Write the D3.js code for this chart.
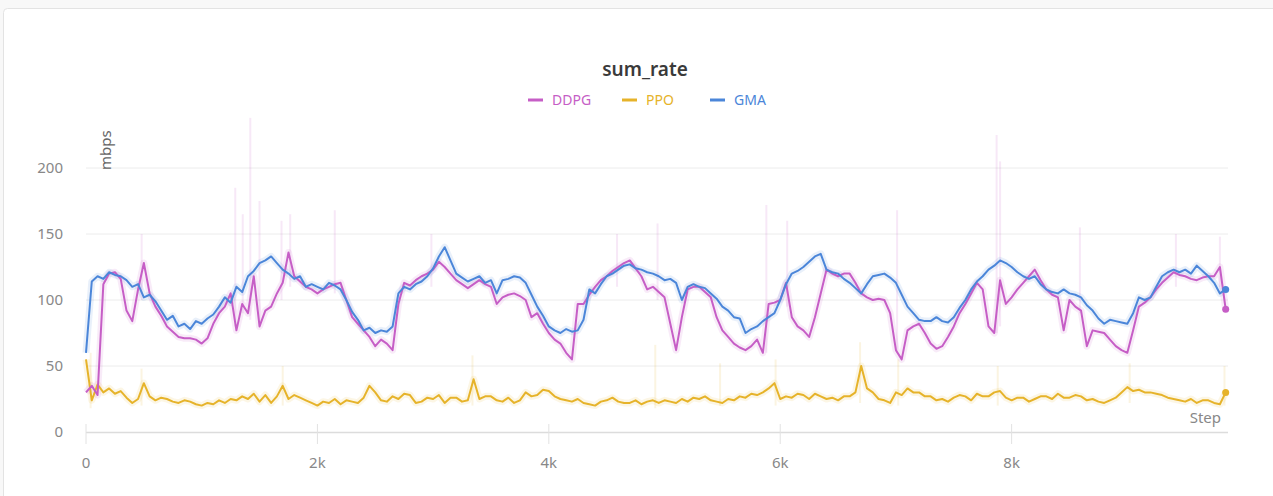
<!DOCTYPE html>
<html>
<head>
<meta charset="utf-8">
<script src="https://cdn.jsdelivr.net/npm/d3@7"></script>
<style>
  html, body { margin: 0; padding: 0; background: #f8f8f8; }
  svg { display: block; }
</style>
</head>
<body>
<svg id="chart" width="1273" height="496"></svg>
<script>
// ---------- data ----------
const title = "sum_rate";
const seriesNames = ["DDPG", "PPO", "GMA"];
const seriesColors = ["#c65ec6", "#e6b32a", "#4b86d9"];
const yTicks = [0, 50, 100, 150, 200];
const xTicks = [0, 2000, 4000, 6000, 8000];
const xTickLabels = ["0", "2k", "4k", "6k", "8k"];
const yLabel = "mbps";
const xLabel = "Step";

// steps 0, 50, 100, ... 9850
const steps = d3.range(0, 9851, 50);

const ddpg = [
  30,35,28,112,120,121,116,92,84,108,
  128,105,95,88,80,76,72,71,71,70,
  67,71,82,90,95,105,77,97,90,118,
  80,92,95,105,113,136,118,114,110,108,
  105,108,110,112,113,100,87,82,77,72,
  65,70,67,62,97,113,111,115,118,120,
  123,129,125,120,115,112,109,112,115,112,
  110,97,102,104,105,103,100,87,90,82,
  75,70,67,60,55,97,97,104,110,115,
  118,122,125,128,130,124,118,108,110,106,
  102,82,62,87,108,110,110,106,102,87,
  77,72,67,64,62,65,70,60,97,98,
  100,113,87,80,77,72,87,105,123,120,
  118,120,120,113,105,102,100,101,100,90,
  62,55,77,80,82,75,67,63,65,72,
  80,90,97,105,113,108,80,75,115,97,
  102,108,113,118,123,115,108,104,102,77,
  100,95,92,65,77,76,75,70,65,62,
  60,77,95,98,102,108,113,117,121,119,
  118,116,115,117,118,118,125,93
];

const ppo = [
  55,24,36,30,33,29,31,26,22,25,
  37,27,24,26,25,23,22,24,23,21,
  20,22,21,24,22,25,24,27,25,29,
  23,28,22,27,35,25,28,26,24,22,
  20,23,22,25,21,24,23,22,26,35,
  30,24,23,27,25,29,28,22,23,26,
  25,28,22,26,26,23,24,40,25,27,
  27,24,23,26,22,24,30,27,28,32,
  31,27,25,24,23,25,22,21,20,23,
  24,26,23,22,22,24,21,23,24,22,
  24,23,22,25,23,26,25,27,24,23,
  22,25,24,27,26,29,28,30,33,37,
  25,27,26,29,28,25,29,27,25,26,
  24,27,27,30,50,33,30,25,24,22,
  30,28,33,30,30,27,27,24,25,23,
  26,28,27,24,29,27,27,30,31,26,
  24,26,26,23,25,27,27,25,29,26,
  26,28,27,24,25,23,22,24,26,30,
  34,31,32,30,30,29,28,26,25,24,
  23,25,22,24,24,22,21,30
];

const gma = [
  60,114,118,116,121,119,118,115,110,112,
  102,104,99,92,85,88,80,82,78,84,
  82,86,89,95,102,98,110,106,118,122,
  128,130,133,128,123,120,116,118,110,112,
  110,108,113,111,108,100,91,85,77,79,
  75,77,76,80,105,110,108,112,114,118,
  124,133,140,130,120,117,114,116,118,113,
  115,105,115,116,118,117,113,104,95,88,
  80,77,75,78,76,77,85,108,105,112,
  118,120,123,126,127,124,123,121,120,118,
  115,116,113,100,110,112,110,109,105,101,
  95,92,87,86,75,78,80,84,87,90,
  100,112,120,122,125,129,133,135,123,121,
  120,116,113,109,105,112,118,119,120,117,
  113,104,95,90,85,84,84,87,84,83,
  87,94,100,108,114,118,123,126,130,128,
  125,121,118,116,118,112,108,106,105,108,
  105,104,102,96,92,86,82,85,84,83,
  82,90,102,100,102,110,118,121,123,121,
  123,120,126,122,118,113,105,108
];

// faint raw spikes (step, low, high)
const ddpgSpikeSteps = [481,1290,1355,1420,1500,1690,1765,2150,2985,4590,4940,5880,6060,7010,7870,7900,8590,9420,9800];
const ddpgSpikeLow   = [100, 80, 90, 85, 80,100,110,105,110,110,100, 60, 95, 60, 75, 80, 90,110,110];
const ddpgSpikeHigh  = [150,185,165,238,175,160,165,168,150,150,158,172,160,168,225,205,155,150,148];
const ppoSpikeSteps  = [40,480,1700,3340,4920,5480,5960,6690,7020,7880,9020,9840];
const ppoSpikeLow    = [18, 20, 20, 20, 18, 20, 20, 22, 20, 20, 22, 20];
const ppoSpikeHigh   = [60, 48, 50, 58, 66, 52, 55, 68, 55, 50, 52, 50];

// ---------- drawing ----------
const svg = d3.select("#chart");
const W = 1273, H = 496;

svg.append("rect").attr("x", 3.5).attr("y", 8.5).attr("width", W + 10).attr("height", H + 10)
  .attr("rx", 4).attr("fill", "#ffffff").attr("stroke", "#e3e3e3");

const x = d3.scaleLinear().domain([0, 9870]).range([86, 1228]);
const y = d3.scaleLinear().domain([0, 200]).range([432, 168]);

const font = "'Noto Sans', 'Open Sans', sans-serif";

// grid
svg.append("g").selectAll("line").data(yTicks.filter(d => d > 0)).join("line")
  .attr("x1", x(0)).attr("x2", x(9870))
  .attr("y1", d => y(d)).attr("y2", d => y(d))
  .attr("stroke", "#ececec").attr("stroke-width", 1);

// y tick labels
svg.append("g").selectAll("text").data(yTicks).join("text")
  .attr("x", 63).attr("y", d => y(d)).attr("dy", "0.35em")
  .attr("text-anchor", "end")
  .attr("font-family", font).attr("font-size", 15).attr("fill", "#888")
  .text(d => d);

// x axis line + ticks
svg.append("line").attr("x1", x(0)).attr("x2", x(9870)).attr("y1", 432.5).attr("y2", 432.5)
  .attr("stroke", "#dcdcdc").attr("stroke-width", 1.5);
svg.append("g").selectAll("line").data(xTicks).join("line")
  .attr("x1", d => x(d)).attr("x2", d => x(d)).attr("y1", 424).attr("y2", 444)
  .attr("stroke", "#e2e2e2").attr("stroke-width", 1);
svg.append("g").selectAll("text").data(xTicks).join("text")
  .attr("x", d => x(d)).attr("y", 463).attr("dy", "0.35em")
  .attr("text-anchor", "middle")
  .attr("font-family", font).attr("font-size", 15).attr("fill", "#888")
  .text((d, i) => xTickLabels[i]);

// axis labels
svg.append("text").attr("transform", "translate(111,170) rotate(-90)")
  .attr("text-anchor", "start")
  .attr("font-family", font).attr("font-size", 15).attr("fill", "#666")
  .text(yLabel);
svg.append("text").attr("x", 1221).attr("y", 423)
  .attr("text-anchor", "end")
  .attr("font-family", font).attr("font-size", 15).attr("fill", "#888")
  .text(xLabel);

// title
svg.append("text").attr("x", 645).attr("y", 76).attr("text-anchor", "middle")
  .attr("font-family", font).attr("font-size", 19).attr("font-weight", 600).attr("fill", "#3a3a3a")
  .text(title);

// legend
const legendX = [528, 622, 710];
const lg = svg.append("g").selectAll("g").data(seriesNames).join("g");
lg.append("line").attr("x1", (d, i) => legendX[i]).attr("x2", (d, i) => legendX[i] + 15)
  .attr("y1", 100).attr("y2", 100)
  .attr("stroke", (d, i) => seriesColors[i]).attr("stroke-width", 3);
lg.append("text").attr("x", (d, i) => legendX[i] + 24).attr("y", 100).attr("dy", "0.35em")
  .attr("font-family", font).attr("font-size", 14).attr("fill", (d, i) => seriesColors[i])
  .text(d => d);

// faint spikes
function spikes(stepsArr, lowArr, highArr, color) {
  svg.append("g").selectAll("line").data(stepsArr).join("line")
    .attr("x1", d => x(d)).attr("x2", d => x(d))
    .attr("y1", (d, i) => y(lowArr[i])).attr("y2", (d, i) => y(highArr[i]))
    .attr("stroke", color).attr("stroke-opacity", 0.14).attr("stroke-width", 2);
}
spikes(ddpgSpikeSteps, ddpgSpikeLow, ddpgSpikeHigh, seriesColors[0]);
spikes(ppoSpikeSteps, ppoSpikeLow, ppoSpikeHigh, seriesColors[1]);

const line = d3.line().x((d, i) => x(steps[i])).y(d => y(d));
const data = [ddpg, ppo, gma];
const order = [1, 0, 2];
// halos
order.forEach(k => {
  svg.append("path").datum(data[k]).attr("d", line)
    .attr("fill", "none").attr("stroke", seriesColors[k])
    .attr("stroke-opacity", 0.12).attr("stroke-width", 7).attr("stroke-linejoin", "round");
});
order.forEach(k => {
  svg.append("path").datum(data[k]).attr("d", line)
    .attr("fill", "none").attr("stroke", seriesColors[k])
    .attr("stroke-width", 2).attr("stroke-linejoin", "round");
  const last = data[k].length - 1;
  svg.append("circle").attr("cx", x(steps[last])).attr("cy", y(data[k][last]))
    .attr("r", 3.5).attr("fill", seriesColors[k]);
});
</script>
</body>
</html>
